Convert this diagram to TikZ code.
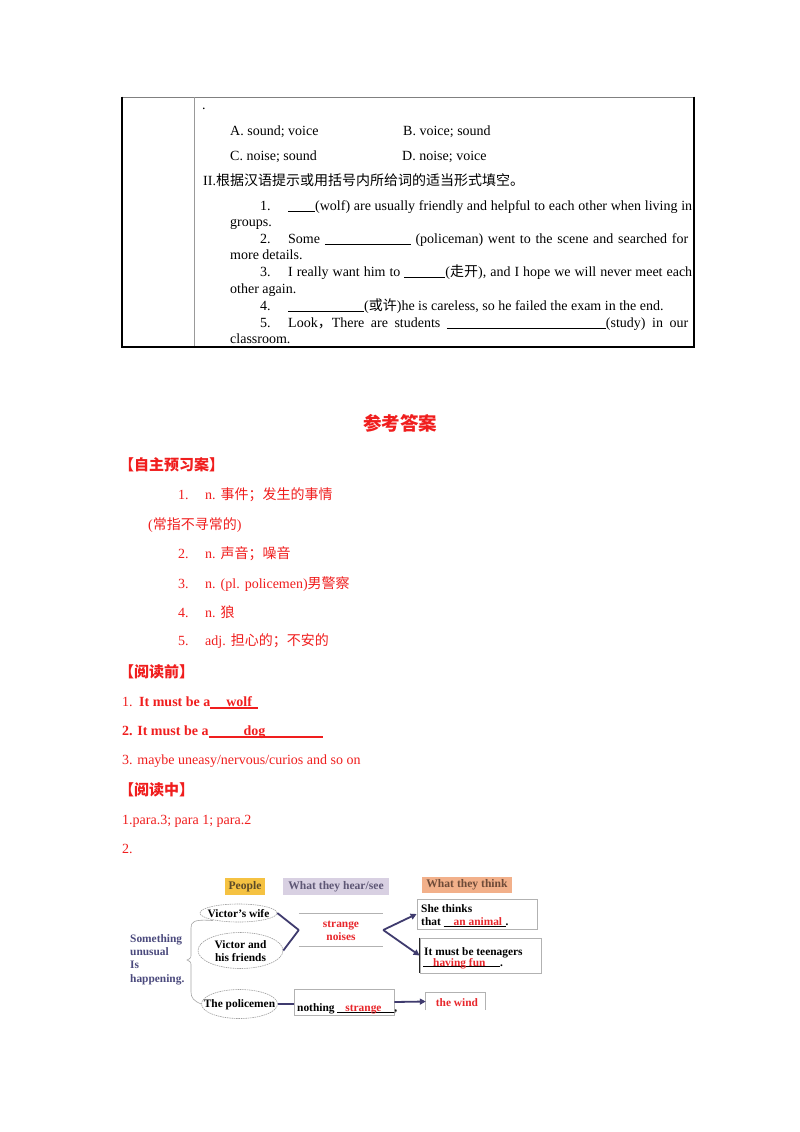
\documentclass[tikz,border=0pt]{standalone}
\usepackage{fontspec}
\setmainfont{Liberation Serif}
\newfontfamily\cjk{Noto Sans CJK SC}
\usetikzlibrary{arrows.meta,shapes.geometric}
\definecolor{ansred}{HTML}{F01E1E}
\definecolor{dred}{HTML}{E8262B}
\definecolor{navy}{HTML}{3F3B6E}
\definecolor{slate}{HTML}{4B4A7D}
\definecolor{hyel}{HTML}{F5C242}
\definecolor{hlav}{HTML}{D8D0E2}
\definecolor{hsal}{HTML}{F2B08A}
\definecolor{hyt}{HTML}{5C4A28}
\definecolor{hlt}{HTML}{5E5775}
\definecolor{hst}{HTML}{6E4A38}
\newcommand\zh[1]{{\cjk #1}}
\newcommand\blank[2][0.9pt]{\rule[-2pt]{#2}{#1}}
\newcommand\ulb[4]{\makebox[0pt][l]{\rule[#4]{#1}{#2}}\makebox[#1][l]{#3}}
\begin{document}
\begin{tikzpicture}[x=1pt,y=-1pt,
 tx/.style={anchor=base west, inner sep=0pt, font=\fontsize{14}{16}\selectfont},
 an/.style={tx, text=ansred},
 hd/.style={anchor=west, inner sep=0pt, text=ansred, font=\fontsize{15}{17}\selectfont\cjk\bfseries},
 dg/.style={inner sep=0pt, font=\fontsize{11.4}{13}\selectfont\bfseries, align=center},
 dgb/.style={inner sep=0pt, font=\fontsize{11.4}{13}\selectfont\bfseries, anchor=base west},
 hdr/.style={inner sep=0pt, font=\fontsize{11.6}{13}\selectfont\bfseries, minimum height=17pt},
 ell/.style={ellipse, draw=gray!75, line width=0.6pt, dash pattern=on 1.5pt off 0.8pt, inner sep=0pt},
 box/.style={draw=gray!60, line width=0.8pt, inner sep=0pt},
 rule/.style={draw=gray!60, line width=0.8pt},
 con/.style={draw=navy, line width=1.8pt},
 arr/.style={con, -{Triangle[length=6pt,width=6pt]}},
]
\fill[white] (0,0) rectangle (800,1132);
\useasboundingbox (0,0) rectangle (800,1132);

% ---------- table ----------
\draw[gray, line width=1pt] (121,97) -- (694,97);
\draw[gray!80, line width=1pt] (194.5,97) -- (194.5,347);
\draw[black, line width=2.2pt] (122,96.5) -- (122,347);
\draw[black, line width=2pt] (694,96.5) -- (694,347);
\draw[black, line width=2pt] (121,346.5) -- (695,346.5);

\node[tx] (dot) at (202,109) {.};
\node[tx] (oa) at (230,135) {A. sound; voice};
\node[tx] (ob) at (403,135) {B. voice; sound};
\node[tx] (oc) at (230,160) {C. noise; sound};
\node[tx] (od) at (402,160) {D. noise; voice};
\node[tx] (h2) at (203,185) {II.\zh{根据汉语提示或用括号内所给词的适当形式填空。}};
\node[tx] (n1) at (260,210) {1.};
\node[tx] (l1) at (288,210) {\makebox[404pt][s]{\blank{27pt}(wolf) are usually friendly and helpful to each other when living in}};
\node[tx] (l1b) at (230,226) {groups.};
\node[tx] (n2) at (260,243) {2.};
\node[tx] (l2) at (288,243) {\makebox[400pt][s]{Some \blank{86pt} (policeman) went to the scene and searched for}};
\node[tx] (l2b) at (230,259) {more details.};
\node[tx] (n3) at (260,276) {3.};
\node[tx] (l3) at (288,276) {\makebox[404pt][s]{I really want him to \blank[1.2pt]{41pt}(\zh{走开}), and I hope we will never meet each}};
\node[tx] (l3b) at (230,293) {other again.};
\node[tx] (n4) at (260,310) {4.};
\node[tx] (l4) at (288,310) {\blank[1.2pt]{76pt}(\zh{或许})he is careless, so he failed the exam in the end.};
\node[tx] (n5) at (260,327) {5.};
\node[tx] (l5) at (288,327) {\makebox[400pt][s]{Look\zh{，}There are students \blank[1.2pt]{159pt}(study) in our}};
\node[tx] (l5b) at (230,343) {classroom.};

% ---------- answers ----------
\node[anchor=center, inner sep=0pt, text=ansred, font=\fontsize{18.5}{20}\selectfont\cjk\bfseries] (title) at (400,423) {参考答案};
\node[hd] (s1) at (119,465) {【自主预习案】};
\node[an] (a1n) at (178,499) {1.};
\node[an] (a1) at (205,499) {n.\hspace{5pt}\zh{事件；发生的事情}};
\node[an] (a1b) at (148,529) {(\zh{常指不寻常的})};
\node[an] (a2n) at (178,558) {2.};
\node[an] (a2) at (205,558) {n.\hspace{5pt}\zh{声音；噪音}};
\node[an] (a3n) at (178,588) {3.};
\node[an] (a3) at (205,588) {n.\hspace{5pt}(pl.\hspace{5pt}policemen)\zh{男警察}};
\node[an] (a4n) at (178,617) {4.};
\node[an] (a4) at (205,617) {n.\hspace{5pt}\zh{狼}};
\node[an] (a5n) at (178,645) {5.};
\node[an] (a5) at (205,645) {adj.\hspace{5pt}\zh{担心的；不安的}};

\node[hd] (s2) at (119,672) {【阅读前】};
\node[an] (b1n) at (122,706) {1.};
\node[an] (b1) at (139,706) {\bfseries It must be a\ulb{48pt}{1.2pt}{\hspace{16pt}wolf}{-2.5pt}};
\node[an] (b2) at (122,735) {\bfseries 2. It must be a\ulb{114pt}{1.2pt}{\hspace{35pt}dog}{-2.5pt}};
\node[an] (b3) at (122,764) {3. maybe uneasy/nervous/curios and so on};
\node[hd] (s3) at (119,790) {【阅读中】};
\node[an] (c1) at (122,824) {1.para.3; para 1; para.2};
\node[an] (c2) at (122,853) {2.};

% ---------- diagram ----------
\node[hdr, fill=hyel, text=hyt, minimum width=40pt] (hp) at (245,886.5) {People};
\node[hdr, fill=hlav, text=hlt, minimum width=106pt] (hh) at (336,886.5) {What they hear/see};
\node[hdr, fill=hsal, text=hst, minimum width=90pt, minimum height=16pt] (ht) at (467,885) {What they think};

\node[inner sep=0pt, text=slate, align=left, anchor=west, font=\fontsize{11.4}{13.3}\selectfont\bfseries] (sth) at (130,959.5) {Something\\unusual\\Is\\happening.};

\node[ell, minimum width=77pt, minimum height=18pt] (vw) at (238.5,913) {};
\node[dg] (vwt) at (238.5,913.5) {Victor’s wife};
\node[ell, minimum width=85pt, minimum height=36pt] (vf) at (240.5,950.5) {};
\node[dg] (vft) at (240.5,951) {Victor and\\his friends};
\node[ell, minimum width=76pt, minimum height=29pt] (pm) at (239.5,1004) {};
\node[dg] (pmt) at (239.5,1004.5) {The policemen};

\draw[gray!70, line width=0.6pt] (vw.south west) ++(2,1) coordinate (bt)
  (bt) .. controls (193,919) and (191,922) .. (191,928) -- (191,954)
  .. controls (191,958) .. (187,960) .. controls (191,962) .. (191,966) -- (191,992)
  .. controls (191,998) and (194,1001) .. (pm.west);

\node[inner sep=0pt, minimum width=84pt, minimum height=32pt] (sn) at (341,930) {};
\node[dg, text=dred] (snt) at (341,931) {strange\\noises};
\draw[rule] (sn.north west) -- (sn.north east);
\draw[rule] (sn.south west) -- (sn.south east);

\draw[con] (vw.east) -- (sn.west);
\draw[con] (vf.east) -- (sn.west);

\node[box, minimum width=120pt, minimum height=30pt] (st) at (477,914) {};
\node[dgb] (stt1) at (421,912) {She thinks};
\node[dgb] (stt2) at (421,925) {that \ulb{62pt}{0.7pt}{\hspace{10pt}\textcolor{dred}{an animal}}{-1.5pt}.};

\node[box, minimum width=121pt, minimum height=35pt] (tt) at (480.5,955.5) {};
\draw[draw=gray!30!black, line width=1.1pt] (tt.north west) -- (tt.south west);
\node[dgb] (tt1) at (424,955) {It must be teenagers};
\node[dgb] (tt2) at (423,966) {\ulb{77pt}{0.7pt}{\hspace{10pt}\textcolor{dred}{having fun}}{-0.5pt}.};

\draw[arr] (sn.east) -- (st.west);
\draw[arr] (sn.east) -- (tt.west);

\node[box, minimum width=100pt, minimum height=26pt] (nb) at (344,1002) {};
\node[dgb] (nbt) at (297,1011) {nothing \ulb{57pt}{0.7pt}{\hspace{8pt}\textcolor{dred}{strange}}{-1.5pt},};
\draw[con] (pm.east) -- (nb.west |- pm.east);

\node[inner sep=0pt, minimum width=59pt, minimum height=17pt] (tw) at (455.5,1001.5) {};
\draw[rule] (tw.south west) -- (tw.north west) -- (tw.north east) -- (tw.south east);
\node[dg, text=dred] (twt) at (457,1002.5) {the wind};
\draw[arr] (nb.east) -- (tw.west);
\end{tikzpicture}
\end{document}
